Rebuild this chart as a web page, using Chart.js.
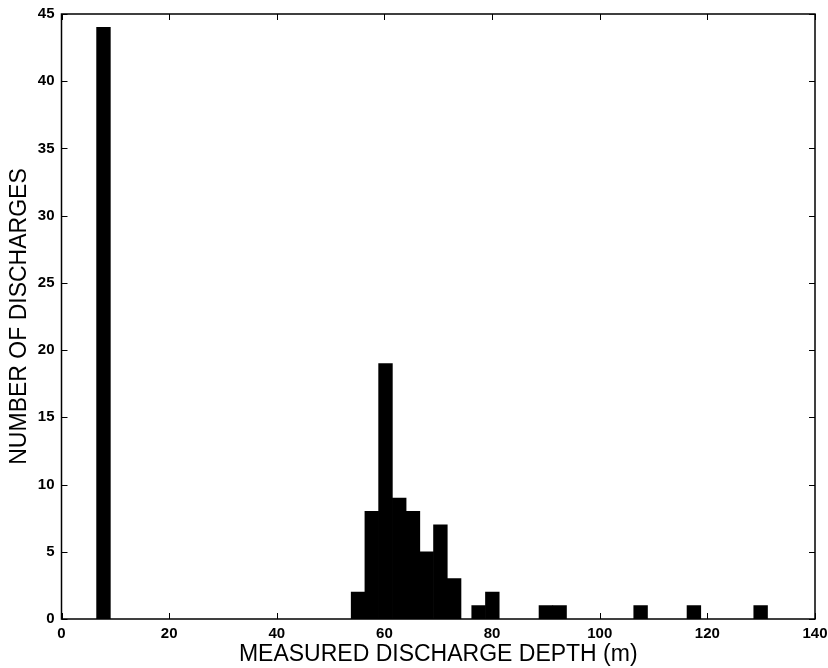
<!DOCTYPE html>
<html>
<head>
<meta charset="utf-8">
<script src="https://cdn.jsdelivr.net/npm/chart.js@4/dist/chart.umd.min.js"></script>
<style>
html,body{margin:0;padding:0;background:#fff;}
#wrap{width:828px;height:668px;position:relative;}
</style>
</head>
<body>
<div id="wrap"><canvas id="c" width="828" height="668"></canvas></div>
<script>
// Bin centres (m) and counts
const binCenters = [7.8, 55.1, 57.65, 60.2, 62.75, 65.3, 67.85, 70.4, 72.95, 77.5, 80.05, 90.0, 92.55, 107.6, 117.5, 129.9];
const counts     = [44,  2,    8,     19,   9,     8,    5,     7,    3,     1,    2,     1,    1,     1,     1,     1];
const xTicks = [0, 20, 40, 60, 80, 100, 120, 140];
const yTicks = [0, 5, 10, 15, 20, 25, 30, 35, 40, 45];
const xTitle = 'MEASURED DISCHARGE DEPTH (m)';
const yTitle = 'NUMBER OF DISCHARGES';

const frame = {
  id: 'frame',
  afterDraw(chart) {
    const {ctx, chartArea: a, scales: {x, y}} = chart;
    ctx.save();
    ctx.strokeStyle = '#000';
    ctx.lineWidth = 1.5;
    ctx.strokeRect(a.left, a.top, a.right - a.left, a.bottom - a.top);
    ctx.lineWidth = 1;
    const L = 6;
    ctx.beginPath();
    xTicks.forEach(v => {
      const px = Math.round(x.getPixelForValue(v)) + 0.5;
      ctx.moveTo(px, a.bottom); ctx.lineTo(px, a.bottom - L);
      ctx.moveTo(px, a.top); ctx.lineTo(px, a.top + L);
    });
    yTicks.forEach(v => {
      const py = Math.round(y.getPixelForValue(v)) + 0.5;
      ctx.moveTo(a.left, py); ctx.lineTo(a.left + L, py);
      ctx.moveTo(a.right, py); ctx.lineTo(a.right - L, py);
    });
    ctx.stroke();
    ctx.restore();
  }
};

const tickFont = {family: 'Liberation Sans, Arial, sans-serif', size: 15, weight: 'bold'};
const titleFont = {family: 'Liberation Sans, Arial, sans-serif', size: 23};

new Chart(document.getElementById('c'), {
  type: 'bar',
  data: {
    datasets: [{
      data: binCenters.map((v, i) => ({x: v, y: counts[i]})),
      backgroundColor: '#000',
      borderColor: '#000',
      borderWidth: 0,
      barPercentage: 1,
      categoryPercentage: 1
    }]
  },
  options: {
    responsive: false,
    animation: false,
    layout: {padding: {top: 14, right: 13, left: 0, bottom: 0}},
    plugins: {legend: {display: false}, tooltip: {enabled: false}},
    scales: {
      x: {
        type: 'linear', min: 0, max: 140, offset: false,
        afterBuildTicks: s => { s.ticks = xTicks.map(v => ({value: v})); },
        grid: {display: false, drawTicks: false},
        border: {display: false},
        ticks: {color: '#000', padding: 6, maxRotation: 0, font: tickFont},
        title: {display: true, text: xTitle, color: '#000', padding: {top: 0, bottom: 0}, font: titleFont},
        afterFit: s => { s.height = 49; s.paddingLeft = 0; s.paddingRight = 0; }
      },
      y: {
        min: 0, max: 45,
        afterBuildTicks: s => { s.ticks = yTicks.map(v => ({value: v})); },
        grid: {display: false, drawTicks: false},
        border: {display: false},
        ticks: {color: '#000', padding: 7, font: tickFont},
        title: {display: true, text: yTitle, color: '#000', padding: {top: 6, bottom: 0}, font: titleFont},
        afterFit: s => { s.width = 61.5; s.paddingTop = 0; s.paddingBottom = 0; }
      }
    }
  },
  plugins: [frame]
});
</script>
</body>
</html>
